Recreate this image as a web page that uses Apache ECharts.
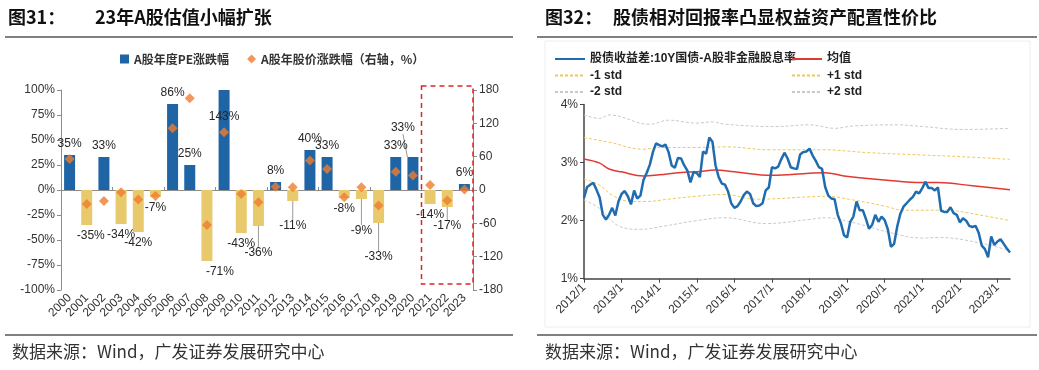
<!DOCTYPE html>
<html><head><meta charset="utf-8">
<script src="https://cdn.jsdelivr.net/npm/echarts@6/dist/echarts.min.js"></script>
<style>html,body{margin:0;padding:0;background:#fff}#c{width:1039px;height:370px}</style>
</head><body><div id="c"></div>
<script>
// ---------- Left panel data ----------
const years = ['2000','2001','2002','2003','2004','2005','2006','2007','2008','2009','2010','2011','2012','2013','2014','2015','2016','2017','2018','2019','2020','2021','2022','2023'];
const peChange = [35,-35,33,-34,-42,-7,86,25,-71,143,-43,-36,8,-11,40,33,-8,-9,-33,33,33,-14,-17,6];
const priceChange = [56,-25,-20,-4,-17,-11,111,165,-63,104,-7,-22,6,5,53,38,-13,5,-28,33,26,9,-19,1];

// ---------- Right panel data ----------
const startYear = 2012;
const spread = [2.39,2.58,2.62,2.65,2.53,2.40,2.10,2.02,2.10,2.22,2.09,2.33,
2.46,2.51,2.42,2.28,2.52,2.38,2.43,2.70,2.82,2.96,3.18,3.33,
3.30,3.28,3.31,3.18,2.95,2.91,3.08,3.07,2.95,2.86,2.66,2.84,
2.82,2.75,3.19,3.15,3.43,3.36,2.95,2.75,2.64,2.62,2.50,2.30,
2.22,2.25,2.33,2.44,2.50,2.46,2.30,2.25,2.26,2.30,2.52,2.57,
2.92,2.90,2.93,3.06,3.17,3.07,2.92,2.90,2.89,3.14,3.18,3.19,
3.24,3.12,3.03,2.92,2.89,2.58,2.43,2.38,2.37,2.10,1.96,1.75,
1.71,1.98,2.07,2.33,2.18,2.18,2.03,1.86,1.93,2.10,1.98,2.07,
2.01,1.85,1.55,1.60,1.90,2.12,2.24,2.30,2.36,2.41,2.50,2.47,
2.56,2.67,2.56,2.56,2.52,2.57,2.17,2.15,2.15,2.23,2.13,2.10,
1.97,2.04,2.00,1.91,1.89,1.91,1.79,1.57,1.51,1.37,1.73,1.58,
1.64,1.68,1.60,1.52,1.45];
// [month index from 2012/1, value]
const meanPts = [[0,3.06],[5,2.99],[8,2.89],[12,2.84],[19,2.77],[24,2.79],[31,2.83],[36,2.84],[42,2.87],[48,2.84],[60,2.78],[72,2.815],[77,2.825],[83,2.77],[96,2.70],[108,2.655],[113,2.655],[124,2.60],[136,2.53]];
const plus1Pts = [[0,3.43],[8,3.35],[19,3.23],[24,3.26],[36,3.26],[45,3.27],[60,3.22],[76,3.22],[91,3.17],[108,3.13],[121,3.10],[136,3.055]];
const minus1Pts = [[0,2.72],[5,2.61],[9,2.44],[15,2.33],[20,2.33],[27,2.37],[36,2.42],[45,2.45],[55,2.37],[72,2.41],[77,2.42],[86,2.355],[96,2.25],[102,2.18],[115,2.18],[126,2.10],[136,2.0]];
const plus2Pts = [[0,3.82],[5,3.76],[8,3.82],[21,3.66],[27,3.73],[36,3.68],[41,3.70],[45,3.66],[61,3.62],[72,3.65],[80,3.59],[86,3.63],[100,3.65],[108,3.62],[121,3.57],[136,3.59]];
const minus2Pts = [[0,2.355],[5,2.21],[11,1.91],[18,1.85],[26,1.91],[36,2.0],[45,2.05],[58,1.95],[72,2.02],[77,2.05],[86,1.965],[98,1.79],[108,1.70],[113,1.71],[126,1.62],[136,1.48]];

const months = spread.map((_, i) => (startYear + Math.floor(i / 12)) + '/' + (i % 12 + 1));

// ---------- styles ----------
const BLUE = '#1F64A5', YELLOW = '#E8C96C', ORANGE = '#EF7D2F';
const LINEBLUE = '#1F6DB0', RED = '#E03A34', GOLD = '#F0C75A', GREY = '#C9C9C9';
const FONT = '"Liberation Sans", "Noto Sans CJK SC", sans-serif';
const CJK = '"Noto Sans CJK SC", sans-serif';

// label adjustments (by year index): [dx, dy, showLeaderLine]
const labelShift = {1:[4,0,false], 8:[13,0,false], 11:[0,16,true], 13:[0,14,true], 17:[0,21,true], 18:[0,23,true], 20:[-10,-18,true], 22:[0,8,true]};

const barData = peChange.map((v, i) => {
  const item = {
    value: v,
    itemStyle: { color: v >= 0 ? BLUE : YELLOW },
    label: { position: v >= 0 ? 'top' : 'bottom' }
  };
  if (i === 9) item.label = { position: 'insideTop', distance: 21 };
  if (labelShift[i] && labelShift[i][2]) item.labelLine = { show: true, lineStyle: { color: '#9a9a9a', width: 1 } };
  return item;
});

const pick = pts => pts.map(p => [months[p[0]], p[1]]);

const refLine = (name, pts, color, dashed, width) => ({
  name, type: 'line', xAxisIndex: 2, yAxisIndex: 2, data: pick(pts), smooth: 0.4,
  symbol: 'none', lineStyle: { color, width, type: dashed ? [3, 2] : 'solid' }, itemStyle: { color }, z: 2,
  silent: true
});

const chart = echarts.init(document.getElementById('c'));

const graphics = [
  { type: 'text', left: 8, top: 8, style: { text: '图31：', font: 'bold 18px ' + CJK, fill: '#111' } },
  { type: 'text', left: 95, top: 8, style: { text: '23年A股估值小幅扩张', font: 'bold 18px ' + CJK, fill: '#111' } },
  { type: 'text', left: 545, top: 8, style: { text: '图32：', font: 'bold 18px ' + CJK, fill: '#111' } },
  { type: 'text', left: 613, top: 8, style: { text: '股债相对回报率凸显权益资产配置性价比', font: 'bold 18px ' + CJK, fill: '#111' } },
  { type: 'line', shape: { x1: 5, y1: 37, x2: 513, y2: 37 }, style: { stroke: '#000', lineWidth: 1 } },
  { type: 'line', shape: { x1: 537, y1: 37, x2: 1037, y2: 37 }, style: { stroke: '#000', lineWidth: 1 } },
  { type: 'line', shape: { x1: 5, y1: 335, x2: 513, y2: 335 }, style: { stroke: '#000', lineWidth: 1 } },
  { type: 'line', shape: { x1: 537, y1: 335, x2: 1037, y2: 335 }, style: { stroke: '#000', lineWidth: 1 } },
  { type: 'rect', shape: { x: 545, y: 41, width: 485, height: 286 }, style: { fill: 'none', stroke: '#eeeeee', lineWidth: 1 } },
  { type: 'text', left: 12, top: 343, style: { text: '数据来源：Wind，广发证券发展研究中心', font: '17px ' + CJK, fill: '#333' } },
  { type: 'text', left: 545, top: 343, style: { text: '数据来源：Wind，广发证券发展研究中心', font: '17px ' + CJK, fill: '#333' } }
];

const lineLegend = (data, left) => ({
  data, orient: 'vertical', left, top: 48, itemWidth: 30, itemHeight: 8, itemGap: 4.5, selectedMode: false,
  itemStyle: { opacity: 0 },
  textStyle: { fontSize: 12, fontWeight: 'bold', color: '#222', fontFamily: FONT }
});

const option = {
  animation: false,
  textStyle: { fontFamily: FONT },
  graphic: { elements: graphics },
  legend: [
    { data: [{ name: 'A股年度PE涨跌幅', icon: 'rect' }, { name: 'A股年股价涨跌幅（右轴，%）', icon: 'diamond' }],
      left: 115, top: 48, itemWidth: 9, itemHeight: 9, itemGap: 18, selectedMode: false,
      textStyle: { fontSize: 12, fontWeight: 'bold', color: '#333', fontFamily: CJK } },
    lineLegend(['股债收益差:10Y国债-A股非金融股息率', '-1 std', '-2 std'], 549),
    lineLegend(['均值', '+1 std', '+2 std'], 786)
  ],
  grid: [
    { left: 61, right: 566, top: 90, bottom: 80, containLabel: false },
    { left: 584, right: 29, top: 104.5, bottom: 91.3, containLabel: false }
  ],
  xAxis: [
    { gridIndex: 0, type: 'category', data: years, position: 'bottom',
      axisLine: { show: false, onZero: false }, axisTick: { show: false },
      axisLabel: { rotate: 45, fontSize: 12, color: '#333', margin: 6, interval: 0 } },
    { gridIndex: 0, type: 'category', data: years,
      axisLine: { show: true, onZero: true, lineStyle: { color: '#8c8c8c', width: 1 } },
      axisTick: { show: true, length: 3, lineStyle: { color: '#8c8c8c' } },
      axisLabel: { show: false } },
    { gridIndex: 1, type: 'category', data: months, boundaryGap: false,
      axisLine: { show: true, lineStyle: { color: '#444', width: 1.5 } },
      axisTick: { show: true, interval: 11, length: 4, lineStyle: { color: '#444' } },
      axisLabel: { rotate: 45, interval: 11, fontSize: 12, color: '#333', margin: 7 } }
  ],
  yAxis: [
    { gridIndex: 0, type: 'value', min: -100, max: 100, interval: 25,
      axisLine: { show: true, lineStyle: { color: '#8c8c8c' } }, axisTick: { show: true, length: 4, lineStyle: { color: '#8c8c8c' } },
      splitLine: { show: false }, axisLabel: { formatter: '{value}%', fontSize: 12, color: '#333', margin: 6 } },
    { gridIndex: 0, type: 'value', min: -180, max: 180, interval: 60, position: 'right',
      axisLine: { show: true, lineStyle: { color: '#8c8c8c' } }, axisTick: { show: true, length: 4, lineStyle: { color: '#8c8c8c' } },
      splitLine: { show: false }, axisLabel: { fontSize: 12, color: '#333', margin: 6 } },
    { gridIndex: 1, type: 'value', min: 1, max: 4, interval: 1,
      axisLine: { show: true, lineStyle: { color: '#444', width: 1.5 } }, axisTick: { show: true, length: 4, lineStyle: { color: '#444' } },
      splitLine: { show: false }, axisLabel: { formatter: v => v + '%', fontSize: 12, color: '#333', margin: 6 } }
  ],
  series: [
    { name: 'A股年度PE涨跌幅', type: 'bar', xAxisIndex: 0, yAxisIndex: 0, barWidth: 11,
      itemStyle: { color: BLUE }, data: barData, clip: true,
      label: { show: true, formatter: p => p.value + '%', fontSize: 12, color: '#262626', distance: 5 },
      labelLayout: p => { const s = labelShift[p.dataIndex]; return s ? { dx: s[0], dy: s[1] } : {}; },
      z: 2 },
    { name: 'A股年股价涨跌幅（右轴，%）', type: 'scatter', xAxisIndex: 0, yAxisIndex: 1,
      symbol: 'diamond', symbolSize: 10, itemStyle: { color: ORANGE }, data: priceChange, z: 5 },
    refLine('+2 std', plus2Pts, GREY, true, 1),
    refLine('-2 std', minus2Pts, GREY, true, 1),
    refLine('+1 std', plus1Pts, GOLD, true, 1),
    refLine('-1 std', minus1Pts, GOLD, true, 1),
    refLine('均值', meanPts, RED, false, 1.5),
    { name: '股债收益差:10Y国债-A股非金融股息率', type: 'line', xAxisIndex: 2, yAxisIndex: 2,
      data: spread, symbol: 'none', lineStyle: { color: LINEBLUE, width: 2.5 }, itemStyle: { color: LINEBLUE }, z: 4 }
  ]
};

chart.setOption(option);

// dashed annotation box around 2021-2023, placed through the axis scales
const a = chart.convertToPixel({ xAxisIndex: 0, yAxisIndex: 0 }, ['2021', 104]);
const b = chart.convertToPixel({ xAxisIndex: 0, yAxisIndex: 0 }, ['2022', -94]);
const c = chart.convertToPixel({ xAxisIndex: 0, yAxisIndex: 0 }, ['2023', -94]);
const band = b[0] - a[0];
graphics.push({ type: 'rect', id: 'box', z: 10,
  shape: { x: a[0] - band / 2, y: a[1], width: c[0] - a[0] + band, height: b[1] - a[1] },
  style: { fill: 'none', stroke: '#E02424', lineWidth: 1.5, lineDash: [5, 4] } });
chart.setOption({ graphic: { elements: graphics } });
</script></body></html>
